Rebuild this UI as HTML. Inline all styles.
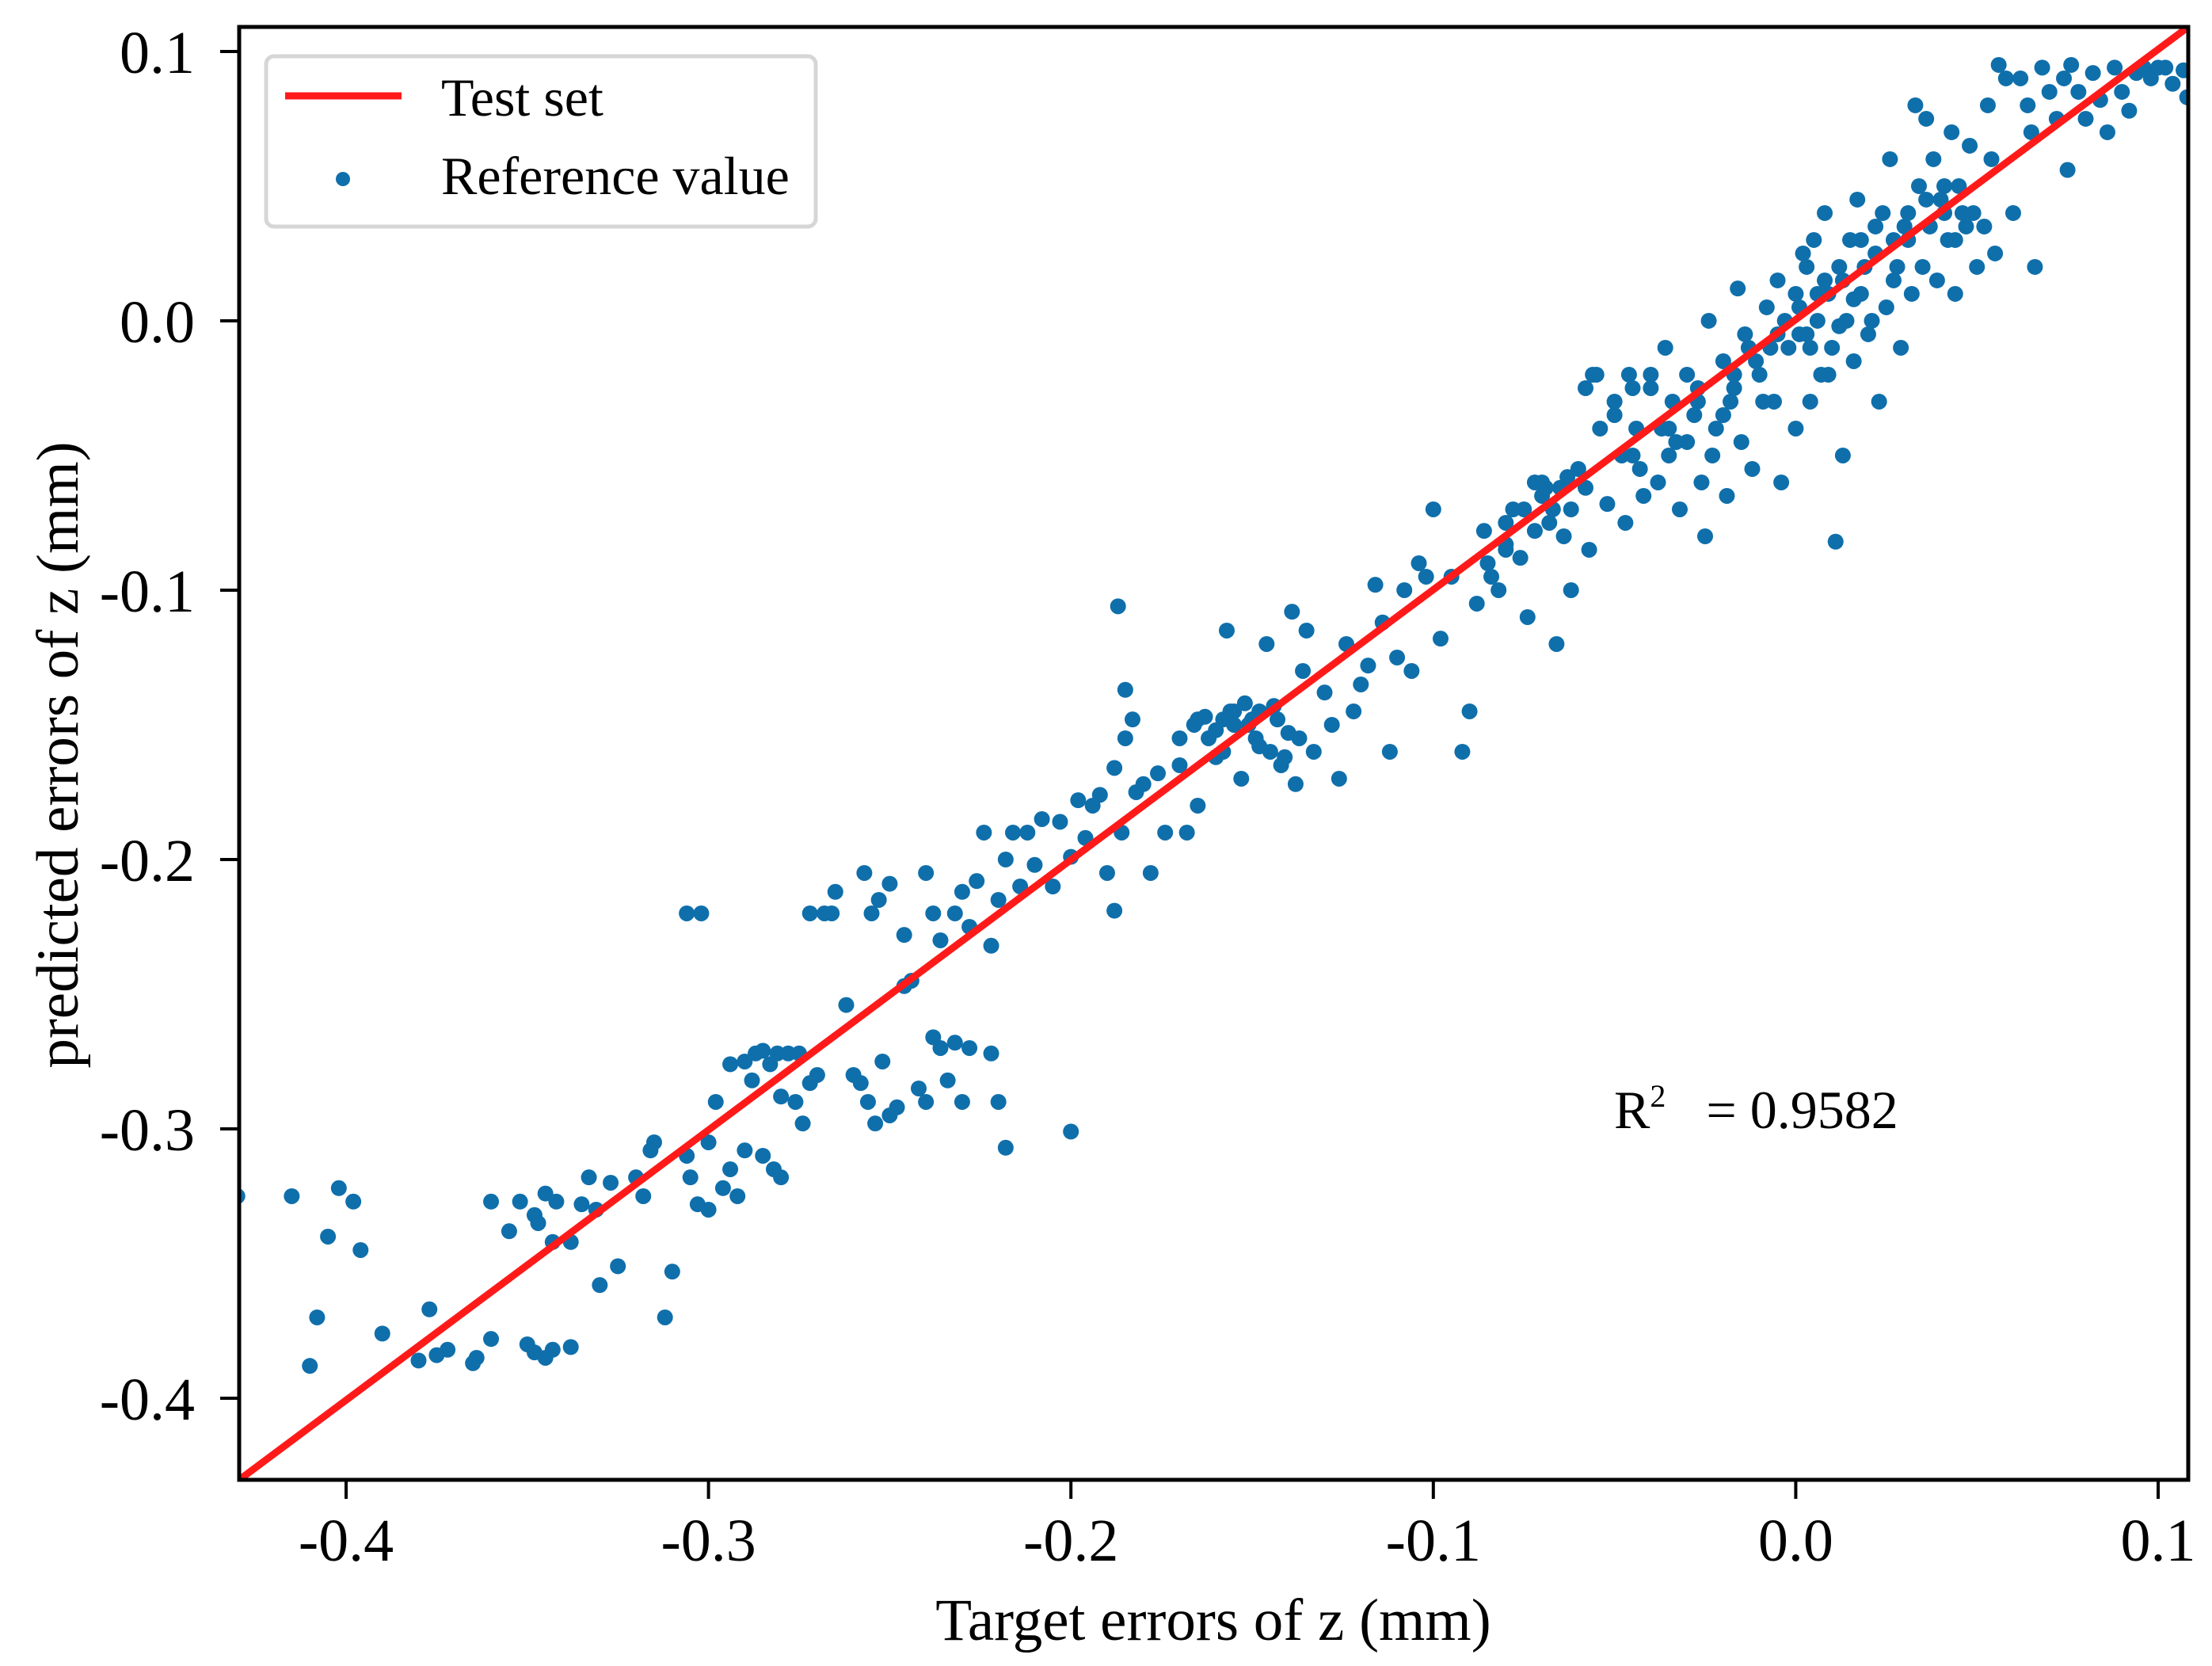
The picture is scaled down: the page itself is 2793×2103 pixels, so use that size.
<!DOCTYPE html>
<html><head><meta charset="utf-8"><style>
html,body{margin:0;padding:0;background:#fff}
svg{display:block}
text{font-family:"Liberation Serif",serif;fill:#000}
</style></head><body>
<svg id="chart" width="2793" height="2103" viewBox="0 0 2793 2103" xmlns="http://www.w3.org/2000/svg">
<g id="marks"></g>
<g id="axes"></g>
<g>
<rect x="336" y="71" width="694" height="215" rx="10" fill="#fff" stroke="#d6d6d6" stroke-width="5"/>
<line x1="360" y1="121" x2="507" y2="121" stroke="#ff1a1a" stroke-width="9"/>
<text x="557" y="146" font-size="68">Test set</text>
<circle cx="433" cy="226" r="9" fill="#0f6fab"/>
<text x="557" y="245" font-size="68">Reference value</text>
</g>
<text x="2038" y="1424" font-size="68">R<tspan font-size="40" dy="-27">2</tspan><tspan dy="27" xml:space="preserve">   = 0.9582</tspan></text>
<text x="1532" y="2070" font-size="75" text-anchor="middle">Target errors of z (mm)</text>
<text x="0" y="0" font-size="75" text-anchor="middle" transform="translate(98,953) rotate(-90)">predicted errors of z (mm)</text>
</svg>
<script>
const xTicks = [-0.4, -0.3, -0.2, -0.1, 0.0, 0.1];
const yTicks = [0.1, 0.0, -0.1, -0.2, -0.3, -0.4];
const xTickLabels = ["-0.4", "-0.3", "-0.2", "-0.1", "0.0", "0.1"];
const yTickLabels = ["0.1", "0.0", "-0.1", "-0.2", "-0.3", "-0.4"];
const xDomain = [-0.4295, 0.1083];
const yDomain = [-0.4303, 0.1091];
const fitX = [-0.4295, 0.1083];
const fitY = [-0.4303, 0.1091];
const ptsX = [-0.43,-0.415,-0.405,-0.402,-0.398,-0.396,-0.408,-0.41,-0.39,-0.377,-0.38,-0.375,-0.372,-0.365,-0.364,-0.36,-0.36,-0.355,-0.352,-0.348,-0.347,-0.345,-0.342,-0.343,-0.338,-0.335,-0.333,-0.331,-0.33,-0.327,-0.325,-0.35,-0.348,-0.345,-0.343,-0.338,-0.32,-0.318,-0.316,-0.315,-0.312,-0.31,-0.306,-0.305,-0.303,-0.3,-0.3,-0.306,-0.302,
-0.298,-0.296,-0.294,-0.292,-0.29,-0.294,-0.29,-0.288,-0.287,-0.285,-0.283,-0.281,-0.28,-0.278,-0.276,-0.275,-0.274,-0.272,-0.27,-0.268,-0.266,-0.272,-0.285,-0.282,-0.28,-0.265,-0.262,-0.26,-0.258,-0.256,-0.254,-0.252,-0.25,-0.248,-0.246,-0.244,-0.242,-0.24,-0.238,-0.236,-0.234,-0.232,-0.23,-0.228,-0.257,-0.255,-0.253,-0.25,-0.246,-0.24,-0.238,-0.236,-0.232,-0.222,-0.22,-0.218,-0.2,
-0.23,-0.228,-0.226,-0.224,-0.222,-0.22,-0.218,-0.216,-0.214,-0.212,-0.21,-0.208,-0.205,-0.203,-0.2,-0.198,-0.196,-0.194,-0.192,-0.19,-0.188,-0.186,-0.185,-0.183,-0.182,-0.18,-0.178,-0.176,-0.174,-0.188,-0.187,-0.185,-0.17,-0.168,-0.166,-0.165,-0.163,-0.162,-0.16,-0.158,-0.157,-0.156,-0.155,-0.153,-0.152,-0.15,-0.149,-0.148,-0.146,-0.145,-0.144,-0.142,-0.14,-0.139,-0.138,-0.136,-0.135,-0.133,-0.13,-0.128,-0.126,-0.124,-0.122,-0.12,-0.118,-0.116,-0.114,-0.112,-0.11,-0.108,-0.106,-0.104,-0.102,-0.1,-0.098,-0.095,-0.092,-0.09,-0.088,-0.086,-0.084,-0.082,-0.08,-0.078,-0.076,-0.074,-0.072,-0.07,-0.068,-0.066,-0.065,-0.064,-0.062,-0.06,-0.058,-0.057,-0.056,-0.054,-0.052,-0.05,-0.048,-0.047,-0.046,-0.044,-0.042,-0.04,-0.038,-0.036,-0.035,-0.033,-0.032,-0.03,-0.028,-0.026,-0.025,-0.024,-0.022,-0.02,-0.019,-0.018,-0.016,-0.015,-0.014,-0.012,-0.01,-0.008,-0.006,-0.005,-0.004,-0.002,0.0,0.0,0.002,0.003,0.004,0.005,0.006,0.007,0.008,0.009,0.01,0.011,0.012,0.013,0.014,0.015,0.016,0.017,0.018,0.02,0.022,0.023,0.024,0.025,0.026,0.028,0.029,0.03,0.032,0.033,0.034,0.035,0.036,0.037,0.038,0.039,0.04,0.042,0.043,0.044,0.045,0.046,0.048,0.05,0.052,0.053,0.054,0.055,0.056,0.058,0.06,0.062,0.064,0.065,0.066,0.068,0.07,0.072,0.074,0.075,0.076,0.078,0.08,0.082,0.084,0.086,0.088,0.09,0.092,0.094,0.096,0.098,0.1,0.102,0.104,0.107,0.108,
-0.005,0.001,0.004,0.008,0.012,0.016,0.019,0.021,-0.011,-0.017,-0.027,-0.035,-0.045,-0.062,-0.07,-0.08,0.027,0.031,0.041,0.047,
-0.058,-0.055,-0.05,-0.045,-0.043,-0.04,-0.037,-0.034,-0.03,-0.027,-0.023,-0.02,-0.017,-0.013,-0.009,-0.007,-0.003,0.001,0.003,0.006,0.009,0.013,0.018,0.022,0.027,0.031,0.036,0.041,0.044,0.049,-0.17,-0.165,-0.16,-0.158,-0.155,-0.151,-0.148,-0.143,-0.141,-0.137,-0.085,-0.08,-0.075,-0.072,-0.069,-0.067,-0.063];
const ptsY = [-0.325,-0.325,-0.34,-0.322,-0.327,-0.345,-0.37,-0.388,-0.376,-0.367,-0.386,-0.384,-0.382,-0.387,-0.385,-0.378,-0.327,-0.338,-0.327,-0.332,-0.335,-0.324,-0.327,-0.342,-0.342,-0.328,-0.318,-0.33,-0.358,-0.32,-0.351,-0.38,-0.383,-0.385,-0.382,-0.381,-0.318,-0.325,-0.308,-0.305,-0.37,-0.353,-0.31,-0.318,-0.328,-0.33,-0.305,-0.22,-0.22,
-0.29,-0.322,-0.315,-0.325,-0.308,-0.276,-0.275,-0.282,-0.272,-0.271,-0.276,-0.272,-0.288,-0.272,-0.29,-0.272,-0.298,-0.283,-0.28,-0.22,-0.22,-0.22,-0.31,-0.315,-0.318,-0.212,-0.254,-0.28,-0.283,-0.29,-0.298,-0.275,-0.295,-0.292,-0.247,-0.245,-0.285,-0.29,-0.266,-0.27,-0.282,-0.268,-0.29,-0.27,-0.205,-0.22,-0.215,-0.209,-0.228,-0.205,-0.22,-0.23,-0.22,-0.272,-0.29,-0.307,-0.301,
-0.212,-0.225,-0.208,-0.19,-0.232,-0.215,-0.2,-0.19,-0.21,-0.19,-0.202,-0.185,-0.21,-0.186,-0.199,-0.178,-0.192,-0.18,-0.176,-0.205,-0.166,-0.19,-0.155,-0.148,-0.175,-0.172,-0.205,-0.168,-0.19,-0.219,-0.106,-0.137,-0.165,-0.19,-0.15,-0.18,-0.147,-0.155,-0.162,-0.148,-0.115,-0.145,-0.15,-0.17,-0.142,-0.148,-0.155,-0.145,-0.12,-0.16,-0.143,-0.165,-0.153,-0.108,-0.172,-0.13,-0.115,-0.16,-0.138,-0.15,-0.17,-0.12,-0.145,-0.135,-0.128,-0.098,-0.112,-0.16,-0.125,-0.1,-0.13,-0.09,-0.095,-0.07,-0.118,-0.095,-0.16,-0.145,-0.105,-0.078,-0.095,-0.1,-0.083,-0.07,-0.088,-0.11,-0.06,-0.065,-0.075,-0.12,-0.062,-0.08,-0.1,-0.055,-0.062,-0.085,-0.02,-0.04,-0.068,-0.03,-0.05,-0.075,-0.02,-0.04,-0.065,-0.025,-0.06,-0.01,-0.05,-0.045,-0.07,-0.02,-0.035,-0.06,-0.08,0.0,-0.04,-0.015,-0.065,-0.03,0.012,-0.045,-0.005,-0.055,-0.02,0.005,-0.03,0.015,-0.06,-0.01,0.01,-0.04,0.025,-0.005,-0.03,0.03,0.0,-0.02,0.04,0.01,-0.01,-0.082,0.02,-0.05,0.0,0.03,-0.015,0.045,0.01,-0.005,0.025,-0.03,0.04,0.005,0.06,0.02,-0.01,0.035,0.01,0.08,0.05,0.02,0.075,0.035,0.06,0.015,0.045,0.03,0.07,0.01,0.05,0.04,0.065,0.02,0.035,0.08,0.06,0.025,0.095,0.09,0.04,0.09,0.08,0.07,0.02,0.094,0.085,0.075,0.09,0.056,0.095,0.085,0.075,0.092,0.082,0.07,0.094,0.085,0.078,0.092,0.094,0.09,0.094,0.094,0.088,0.093,0.083,
-0.005,0.005,-0.01,0.015,-0.002,0.008,0.02,0.0,-0.015,-0.025,-0.03,-0.04,-0.05,-0.07,-0.06,-0.075,0.015,0.03,0.04,0.035,
-0.025,-0.02,-0.035,-0.025,-0.055,-0.02,-0.04,-0.03,-0.045,-0.025,-0.05,-0.035,-0.02,-0.01,-0.03,-0.01,0.0,-0.005,0.02,0.01,-0.02,0.015,0.03,0.035,0.03,0.04,0.045,0.05,0.03,0.04,-0.155,-0.148,-0.152,-0.16,-0.145,-0.15,-0.158,-0.148,-0.162,-0.155,-0.09,-0.085,-0.07,-0.078,-0.062,-0.07,-0.058];

const NS = "http://www.w3.org/2000/svg";
const L = 302, R = 2763, T = 34, B = 1868;
function sx(v){ return L + (v - xDomain[0]) / (xDomain[1] - xDomain[0]) * (R - L); }
function sy(v){ return B - (v - yDomain[0]) / (yDomain[1] - yDomain[0]) * (B - T); }
function mk(tag, attrs, parent){ const e = document.createElementNS(NS, tag); for (const k in attrs) e.setAttribute(k, attrs[k]); parent.appendChild(e); return e; }

const marks = document.getElementById("marks");
const axes = document.getElementById("axes");
const clip = mk("clipPath", {id: "pc"}, document.getElementById("chart"));
mk("rect", {x: L, y: T, width: R - L, height: B - T}, clip);
marks.setAttribute("clip-path", "url(#pc)");

for (let i = 0; i < ptsX.length; i++) {
  const c = mk("circle", {cx: sx(ptsX[i]), cy: sy(ptsY[i]), r: 10, fill: "#0f6fab"}, marks);
  
  
}
const fl = mk("line", {x1: sx(fitX[0]), y1: sy(fitY[0]), x2: sx(fitX[1]), y2: sy(fitY[1]), stroke: "#ff1a1a", "stroke-width": 9}, marks);



const frame = mk("rect", {x: L, y: T, width: R - L, height: B - T, fill: "none", stroke: "#000", "stroke-width": 5}, axes);



xTicks.forEach((v, i) => {
  const x = sx(v);
  const t = mk("line", {x1: x, y1: B, x2: x, y2: B + 24, stroke: "#000", "stroke-width": 4}, axes);
  
  
  const lb = mk("text", {x: x, y: 1970, "font-size": 76, "text-anchor": "middle"}, axes);
  lb.textContent = xTickLabels[i];
  
  
});
yTicks.forEach((v, i) => {
  const y = sy(v);
  const t = mk("line", {x1: L - 24, y1: y, x2: L, y2: y, stroke: "#000", "stroke-width": 4}, axes);
  
  
  const lb = mk("text", {x: 246, y: y + 27, "font-size": 76, "text-anchor": "end"}, axes);
  lb.textContent = yTickLabels[i];
  
  
});
</script>
</body></html>
